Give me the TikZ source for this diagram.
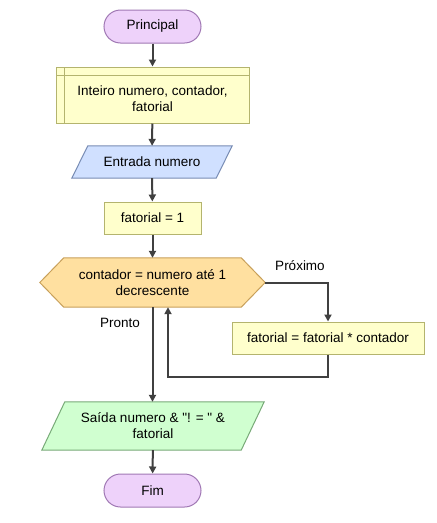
\documentclass[tikz,border=0pt]{standalone}
\usepackage{fontspec}
\setmainfont{Liberation Sans}
\usetikzlibrary{arrows.meta,backgrounds}
\definecolor{termfill}{RGB}{238,210,250}
\definecolor{termdraw}{RGB}{160,120,180}
\definecolor{yfill}{RGB}{255,255,204}
\definecolor{ydraw}{RGB}{180,180,110}
\definecolor{bfill}{RGB}{208,224,255}
\definecolor{bdraw}{RGB}{120,140,180}
\definecolor{ofill}{RGB}{255,224,160}
\definecolor{odraw}{RGB}{200,160,90}
\definecolor{gfill}{RGB}{208,255,208}
\definecolor{gdraw}{RGB}{120,170,120}
\definecolor{conncol}{RGB}{64,64,64}
\tikzset{
  base/.style={inner sep=0pt, align=center, font=\fontsize{13.5}{16}\selectfont},
  terminal/.style={base, draw=termdraw, fill=termfill, line width=1pt, rounded corners=16.5pt, minimum width=97pt, minimum height=33pt},
  procbox/.style={base, draw=ydraw, fill=yfill, line width=1pt, minimum height=32pt},
  txt/.style={base, draw=none},
  shapeline/.style={line width=1pt},
  conn/.style={draw=conncol, line width=2pt, -{Triangle[length=7pt,width=7pt]}},
  lbl/.style={font=\fontsize{13.5}{16}\selectfont, inner sep=0pt}
}
\begin{document}
\begin{tikzpicture}[x=1pt,y=-1pt]
\useasboundingbox (0,0) rectangle (437,523);

\node[terminal] (start) at (152.5,26.5) {Principal};
\node[procbox, minimum width=193pt, minimum height=56pt,
  path picture={\draw[ydraw, line width=1pt]
    ([xshift=8pt]path picture bounding box.north west) -- ([xshift=8pt]path picture bounding box.south west)
    ([yshift=-8pt]path picture bounding box.north west) -- ([yshift=-8pt]path picture bounding box.north east);}]
  (decl) at (152.5,95) {\parbox{180pt}{\vspace*{7pt}\centering Inteiro numero, contador,\\fatorial}};
\node[txt, minimum width=160pt, minimum height=32pt] (in) at (152,162) {Entrada numero};
\node[procbox, minimum width=97pt] (init) at (152.5,218) {fatorial = 1};
\node[txt, minimum width=225pt, minimum height=49pt] (loop) at (152.5,282.5) {contador = numero até 1\\decrescente};
\node[procbox, minimum width=192pt] (body) at (328,338) {fatorial = fatorial * contador};
\node[txt, minimum width=222pt, minimum height=48pt] (out) at (153,426) {Saída numero \& \textquotedbl! = \textquotedbl{} \&\\fatorial};
\node[terminal] (end) at (152.5,490.5) {Fim};

\begin{scope}[on background layer]
  \fill[white] (0,0) rectangle (437,523);
  \filldraw[shapeline, draw=bdraw, fill=bfill]
    ([xshift=16pt]in.north west) -- (in.north east) -- ([xshift=-16pt]in.south east) -- (in.south west) -- cycle;
  \filldraw[shapeline, draw=odraw, fill=ofill]
    (loop.west) -- ([xshift=24pt]loop.north west) -- ([xshift=-24pt]loop.north east) -- (loop.east)
    -- ([xshift=-24pt]loop.south east) -- ([xshift=24pt]loop.south west) -- cycle;
  \filldraw[shapeline, draw=gdraw, fill=gfill]
    ([xshift=23pt]out.north west) -- (out.north east) -- ([xshift=-23pt]out.south east) -- (out.south west) -- cycle;
\end{scope}

\coordinate (back) at (168,377);

\draw[conn] (start) -- (decl);
\draw[conn] (decl) -- (in);
\draw[conn] (in) -- (init);
\draw[conn] (init) -- (loop);
\draw[conn] (loop.east) -| (body.north);
\draw[conn] (body.south) |- (back) -- (back |- loop.south);
\draw[conn] (loop.south) -- (loop.south |- out.north);
\draw[conn] (out) -- (end);

\node[lbl] (lprox) at (300,266) {Próximo};
\node[lbl] (lpronto) at (120,323) {Pronto};
\end{tikzpicture}
\end{document}
